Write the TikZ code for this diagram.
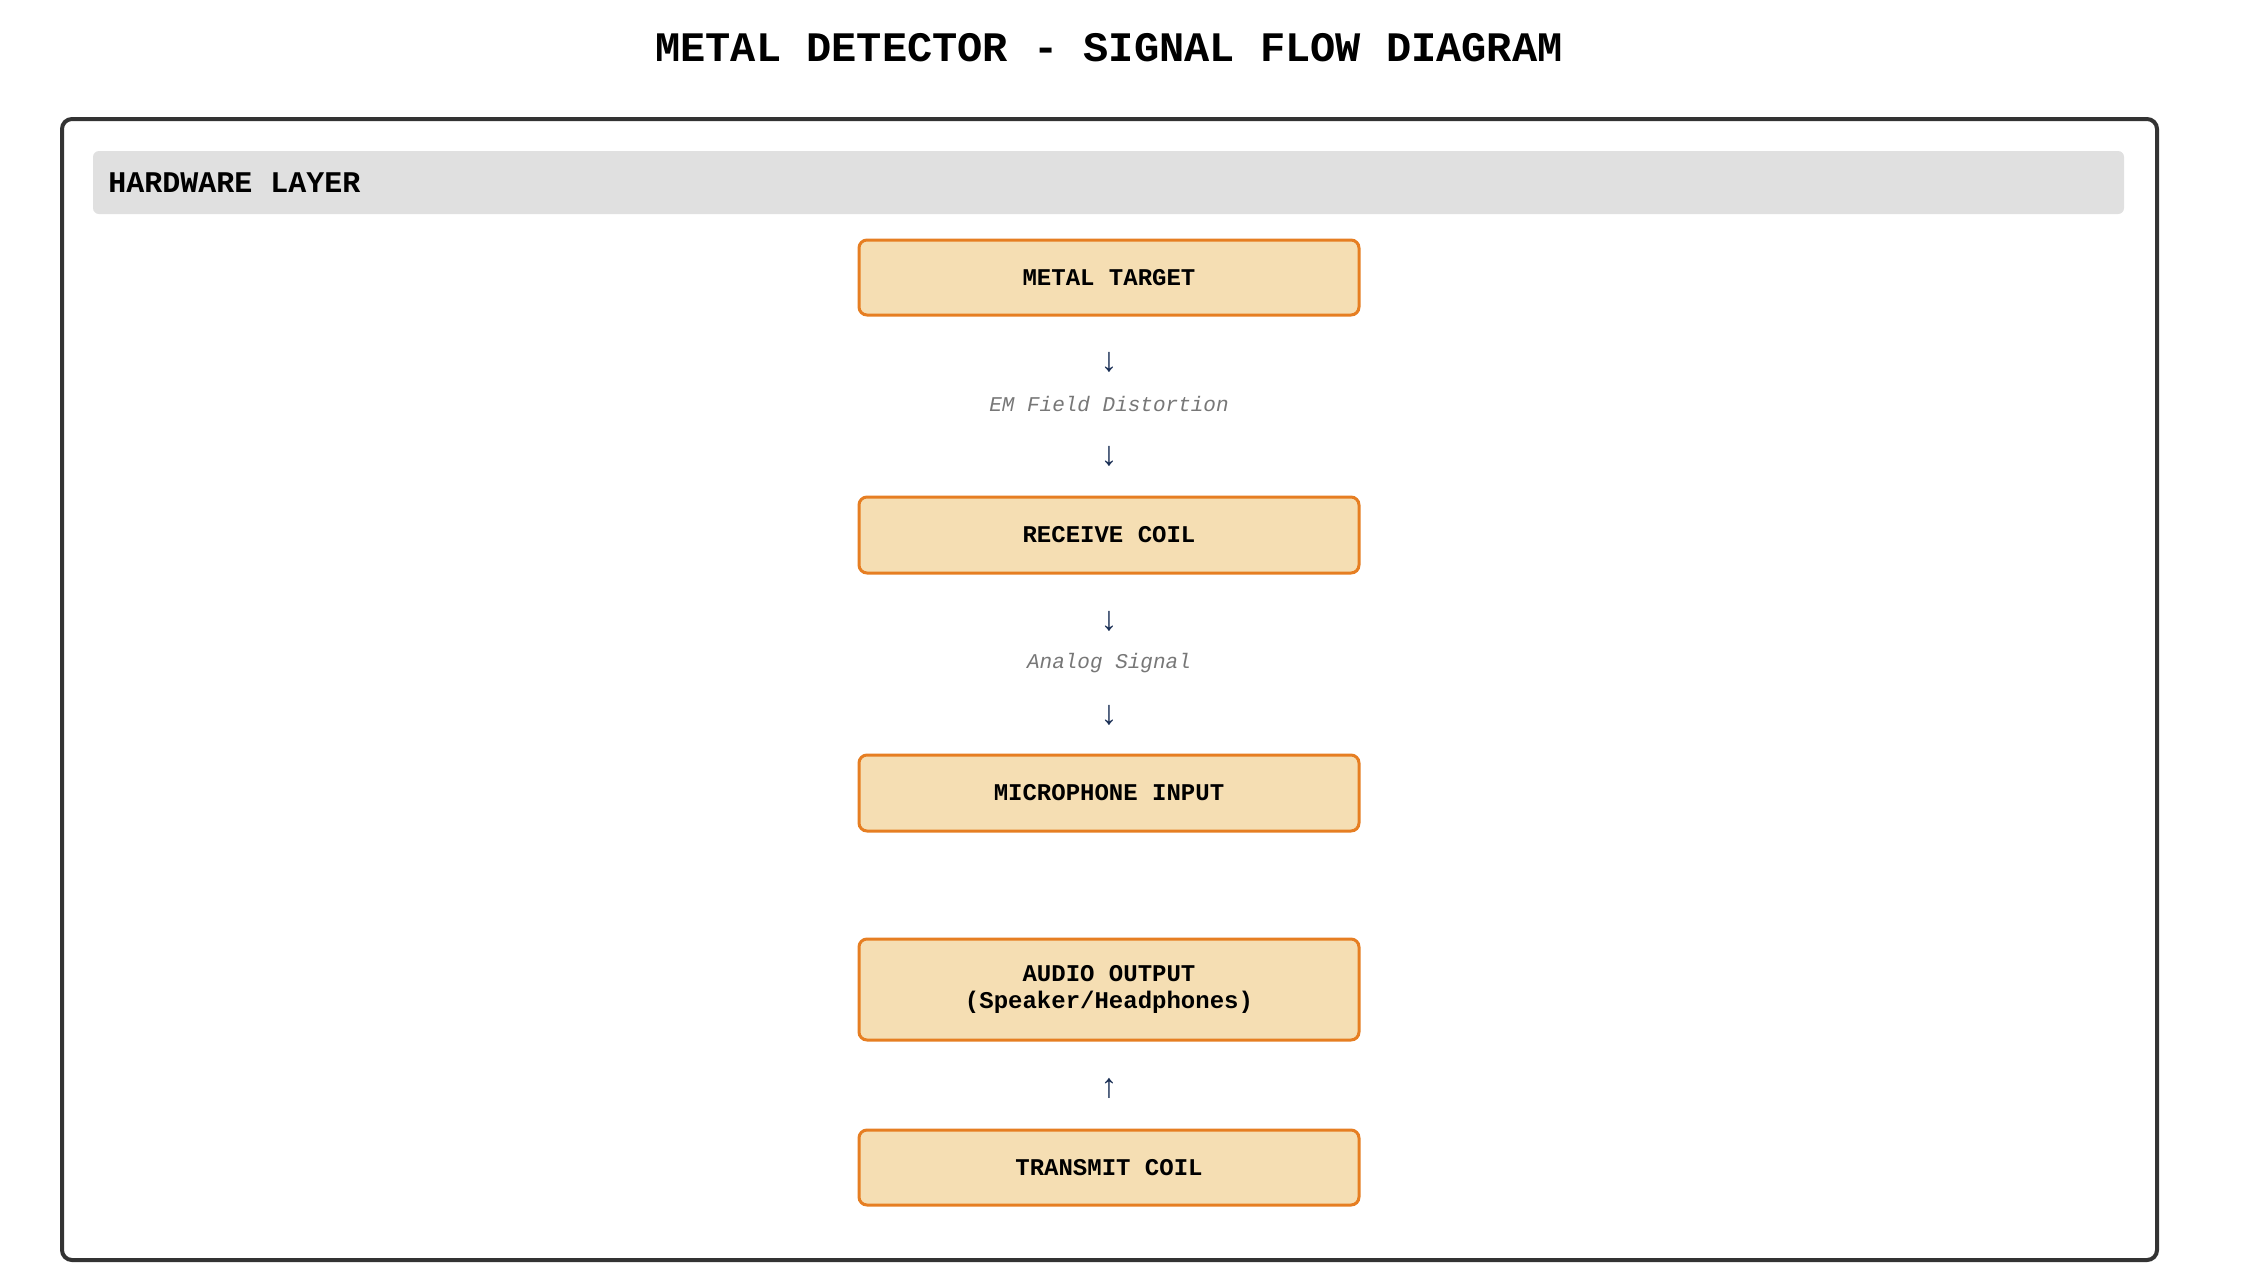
\documentclass[tikz,border=0pt]{standalone}
\usepackage{fontspec}
\setmainfont{Liberation Mono}
\setmonofont{Liberation Mono}
\definecolor{frameC}{HTML}{333333}
\definecolor{headC}{HTML}{E0E0E0}
\definecolor{boxFill}{HTML}{F5DEB3}
\definecolor{boxLine}{HTML}{E67E22}
\definecolor{arrC}{HTML}{1A2F55}
\definecolor{lblC}{HTML}{777777}
\begin{document}
\begin{tikzpicture}[x=0.5pt,y=-0.5pt,
  stepbox/.style={draw=boxLine, fill=boxFill, line width=1.5pt, rounded corners=4pt,
    minimum width=250pt, align=center, inner sep=0pt,
    font=\fontsize{12}{13.7}\selectfont\bfseries},
  arrglyph/.style={text=arrC, inner sep=0pt, font=\fontsize{17}{18}\selectfont},
  flowlbl/.style={text=lblC, inner sep=0pt, font=\fontsize{10.5}{12}\itshape}
]
\useasboundingbox (0,0) rectangle (2265,1275);
\fill[white] (0,0) rectangle (2265,1275);
\node[inner sep=0pt, font=\fontsize{21}{24}\selectfont\bfseries] (title) at (1109,47.7) {METAL DETECTOR - SIGNAL FLOW DIAGRAM};
\draw[frameC, line width=2pt, rounded corners=5pt] (62,119) rectangle (2157,1260);
\fill[headC, rounded corners=3pt] (93,151) rectangle (2124,214);
\node[anchor=west, inner sep=0pt, font=\fontsize{15}{17}\selectfont\bfseries] (layer) at (108,182.5) {HARDWARE LAYER};
\node[stepbox, minimum height=37.5pt] (target) at (1109,277.5) {METAL TARGET};
\node[arrglyph] (a1) at (1109,362.6) {↓};
\node[flowlbl] (l1) at (1109,404.5) {EM Field Distortion};
\node[arrglyph] (a2) at (1109,456.5) {↓};
\node[stepbox, minimum height=38pt] (rx) at (1109,535) {RECEIVE COIL};
\node[arrglyph] (a3) at (1109,621) {↓};
\node[flowlbl] (l2) at (1109,663) {Analog Signal};
\node[arrglyph] (a4) at (1109,715) {↓};
\node[stepbox, minimum height=38pt] (mic) at (1109,793) {MICROPHONE INPUT};
\node[stepbox, minimum height=50.5pt] (audio) at (1109,989.5) {AUDIO OUTPUT\\(Speaker/Headphones)};
\node[arrglyph] (a5) at (1109,1088) {↑};
\node[stepbox, minimum height=37.5pt] (tx) at (1109,1167.5) {TRANSMIT COIL};
\end{tikzpicture}
\end{document}
